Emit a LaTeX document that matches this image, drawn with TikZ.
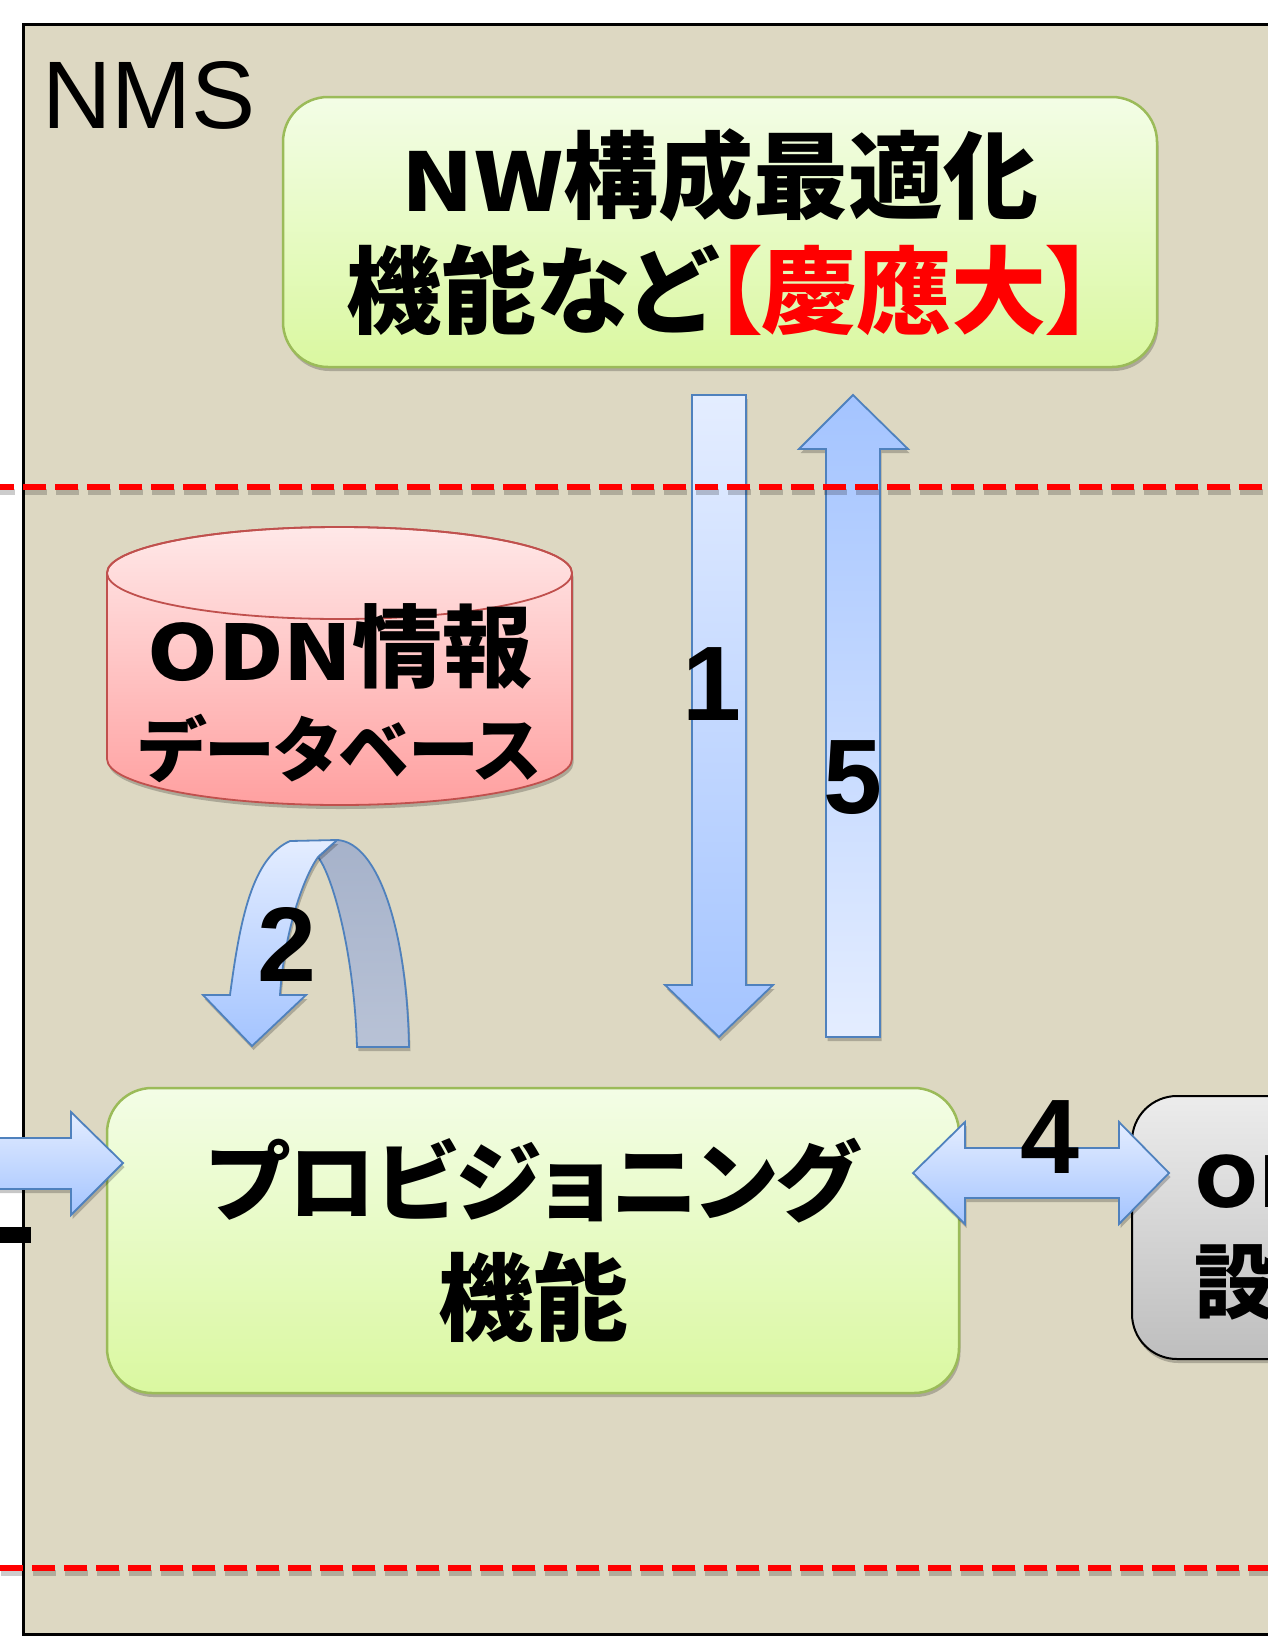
\documentclass[tikz,border=0pt]{standalone}
\usepackage{fontspec}
\usepackage{graphicx}
\setmainfont{Liberation Sans}
\newfontfamily\jp{Noto Sans CJK JP}[RawFeature=+palt]
\newfontfamily\arial{Liberation Sans}
\usetikzlibrary{shadows}
\definecolor{frametan}{RGB}{221,216,194}
\definecolor{greenborder}{RGB}{155,187,89}
\definecolor{greentop}{RGB}{243,253,230}
\definecolor{greenbot}{RGB}{218,248,160}
\definecolor{blueborder}{RGB}{79,129,189}
\definecolor{bluelight}{RGB}{228,237,255}
\definecolor{bluedark}{RGB}{164,196,255}
\definecolor{backtop}{RGB}{166,178,202}
\definecolor{backbot}{RGB}{184,194,214}
\definecolor{pinktop}{RGB}{255,232,232}
\definecolor{pinkbot}{RGB}{255,160,160}
\definecolor{pinkborder}{RGB}{192,80,77}
\definecolor{graytop}{RGB}{236,236,236}
\definecolor{graybot}{RGB}{190,190,190}
\newcommand\lat[1]{\scalebox{1}[0.85]{#1}}
\begin{document}
\begin{tikzpicture}[x=1pt,y=-1pt,
  softshadow/.style={drop shadow={shadow xshift=1.5pt,shadow yshift=-4pt,opacity=0.22,fill=black}},
  greenbox/.style={rectangle,rounded corners=45pt,draw=greenborder,line width=2.5pt,
    top color=greentop,bottom color=greenbot,inner sep=0pt,softshadow},
  graybox/.style={rectangle,rounded corners=45pt,draw=black,line width=2pt,
    top color=graytop,bottom color=graybot,inner sep=0pt,softshadow},
  blockarrow/.style={draw=blueborder,line width=1.8pt,line join=miter,softshadow},
  numlabel/.style={inner sep=0pt,font=\arial\bfseries\fontsize{106}{106}\selectfont},
  reddash/.style={draw=red,line width=6pt,dash pattern=on 23pt off 9pt},
  dashshadow/.style={draw=black,opacity=0.2,line width=6pt,dash pattern=on 23pt off 9pt}]
\useasboundingbox (0,0) rectangle (1268,1636);
\clip (0,0) rectangle (1268,1636);
\fill[white] (0,0) rectangle (1268,1636);
% frame
\draw[fill=frametan,line width=3pt] (23,24) rectangle (1300,1634);
\node[anchor=base west,inner sep=0pt,font=\arial\fontsize{96}{96}\selectfont] (nms) at (42,128) {NMS};
% top box
\node[greenbox,minimum width=874pt,minimum height=270pt,align=center,
  font=\jp\bfseries\fontsize{95}{115}\selectfont] (nwopt) at (720,232)
  {\lat{NW}構成最適化\\機能など\textcolor{red}{【慶應大】}};
% cylinder
\path[draw=pinkborder,line width=1.8pt,top color=pinktop,bottom color=pinkbot,softshadow]
  (107,573) -- (107,759) arc (180:0:232.5 and 46) -- (572,573) arc (0:-180:232.5 and 46) -- cycle;
\draw[pinkborder,line width=1.8pt] (339.5,573) ellipse (232.5 and 46);
\node[inner sep=0pt,align=center,font=\jp\bfseries\fontsize{90}{96}\selectfont] (odninfo) at (340,693)
  {\lat{ODN}情報\\{\fontsize{71}{96}\selectfont データベース}};
% provisioning box
\node[greenbox,minimum width=852pt,minimum height=305pt,align=center,
  font=\jp\bfseries\fontsize{95}{119}\selectfont] (prov) at (533,1240.5)
  {{\fontsize{87}{119}\selectfont プロビジョニング}\\機能};
% gray box
\node[graybox,minimum width=400pt,minimum height=263pt] (odnbox) at (1332,1227.5) {};
\node[anchor=base west,inner sep=0pt,font=\jp\bfseries\fontsize{82}{82}\selectfont] (odnline1) at (1194,1207) {\lat{ODN}};
\node[anchor=base west,inner sep=0pt,font=\jp\bfseries\fontsize{82}{82}\selectfont] (odnline2) at (1194,1312) {設備};
% arrow 1 (down)
\draw[blockarrow,top color=bluelight,bottom color=bluedark]
  (692,395) -- (746,395) -- (746,985) -- (773,985) -- (719,1037) -- (665,985) -- (692,985) -- cycle;
% arrow 5 (up)
\draw[blockarrow,top color=bluedark,bottom color=bluelight]
  (853,395) -- (908,449) -- (880,449) -- (880,1037) -- (826,1037) -- (826,449) -- (799,449) -- cycle;
% arrow 4 (double)
\draw[blockarrow,top color=bluelight,bottom color=bluedark]
  (913,1173) -- (965,1122) -- (965,1148) -- (1119,1148) -- (1119,1122) -- (1169,1173)
  -- (1119,1224) -- (1119,1198) -- (965,1198) -- (965,1224) -- cycle;
% left incoming arrow
\draw[blockarrow,top color=bluelight,bottom color=bluedark]
  (-5,1138) -- (71,1138) -- (71,1112) -- (123,1163) -- (71,1215) -- (71,1189) -- (-5,1189) -- cycle;
\fill[black] (0,1227) rectangle (31,1243);
% arrow 2 (u-turn)
\draw[blockarrow,top color=backtop,bottom color=backbot]
  (337,840) .. controls (378,842) and (407,930) .. (409,1047) -- (357,1047)
  .. controls (354,950) and (332,875) .. (318,857) -- cycle;
\draw[blockarrow,top color=bluelight,bottom color=bluedark]
  (230,995) .. controls (240,920) and (252,858) .. (290,841) -- (337,840) -- (318,857)
  .. controls (302,880) and (284,935) .. (280,995) -- (306,995) -- (252,1046) -- (203,995) -- cycle;
% labels
\node[numlabel] (n1) at (712,684) {1};
\node[numlabel] (n5) at (853,778) {5};
\node[numlabel] (n4) at (1050,1137) {4};
\node[numlabel] (n2) at (287,944) {2};
% dashed separators
\draw[dashshadow] (-8,492) -- (1300,492);
\draw[reddash] (-9,487) -- (1300,487);
\draw[dashshadow] (1,1573) -- (1300,1573);
\draw[reddash] (0,1568) -- (1300,1568);
\end{tikzpicture}
\end{document}
